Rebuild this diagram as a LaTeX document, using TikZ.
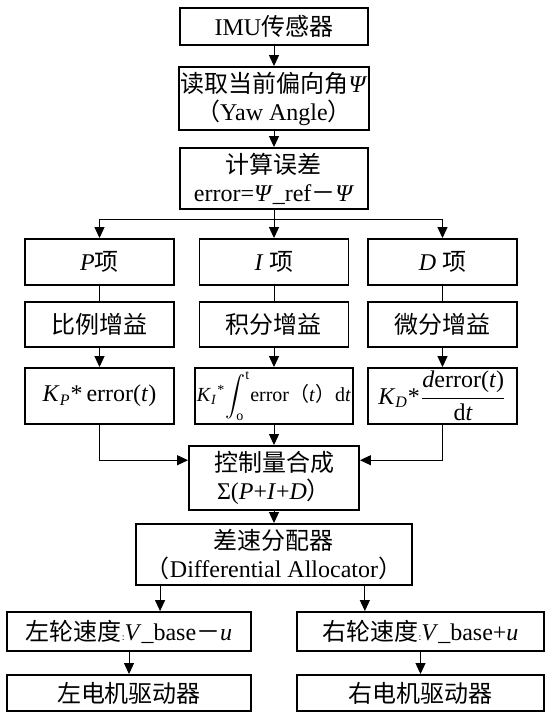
\documentclass[tikz,border=0pt]{standalone}
\usepackage{amsmath}
\usepackage{fontspec}
\setmainfont{Liberation Serif}
\newfontfamily\cjk{Noto Sans CJK SC}
\newcommand{\zh}[1]{{\cjk #1}}
\usepackage{tikz}
\usetikzlibrary{arrows.meta,positioning,calc}

\begin{document}
\begin{tikzpicture}[x=0.5pt,y=-0.5pt,
  box/.style={draw,line width=0.95pt,align=center,inner sep=1pt,font=\fontsize{12}{14}\selectfont},
  arr/.style={-{Triangle[length=5.5pt,width=5pt]},line width=0.5pt},
  ln/.style={line width=0.5pt}]
\useasboundingbox (0,0) rectangle (545,714);
\node[box,minimum width=94pt,minimum height=18.5pt] (imu) at (274,26.5) {IMU\zh{传感器}};
\node[box,minimum width=94pt,minimum height=31.5pt] (yaw) at (274,98.5) {\zh{读取当前偏向角}\textit{Ψ}\\\zh{（}Yaw Angle\zh{）}};
\node[box,minimum width=94pt,minimum height=30.5pt] (err) at (274,178.5) {\zh{计算误差}\\error=\textit{Ψ}\_ref\zh{－}\textit{Ψ}};
\foreach \n/\x/\t/\g in {p/99.5/{\textit{P}\zh{项}}/比例增益,i/274/{\textit{I} \zh{项}}/积分增益,d/442.5/{\textit{D} \zh{项}}/微分增益}{
  \node[box,minimum width=74.5pt,minimum height=23pt] (\n term) at (\x,262) {\t};
  \node[box,minimum width=74.5pt,minimum height=22.5pt] (\n gain) at (\x,324.5) {\zh{\g}};
}
\node[box,minimum width=74.5pt,minimum height=28pt] (pform) at (99.5,396) {\textit{K}\textsubscript{\textit{P}}*\,error(\textit{t})};
\node[box,minimum width=74.5pt,minimum height=28pt,font=\fontsize{10}{12}\selectfont] (iform) at (274,396) {\textit{K}\textsubscript{\textit{I}}\textsuperscript{*}$\displaystyle\int_{\mathrm{o}}^{\mathrm{t}}$error\zh{（}\textit{t}\zh{）}d\textit{t}};
\node[box,minimum width=74.5pt,minimum height=28pt] (dform) at (442.5,396) {\textit{K}\textsubscript{\textit{D}}*$\dfrac{\text{\textit{d}error(\textit{t})}}{\text{d\textit{t}}}$};
\node[box,minimum width=85pt,minimum height=32pt] (sum) at (274,478) {\zh{控制量合成}\\Σ(\textit{P}+\textit{I}+\textit{D}\zh{）}};
\node[box,minimum width=138pt,minimum height=30.5pt] (alloc) at (274,554.5) {\zh{差速分配器}\\\zh{（}Differential Allocator\zh{）}};
\node[box,minimum width=122pt,minimum height=19.5pt] (lwheel) at (129,631.5) {\zh{左轮速度}{\tiny:}\textit{V}\_base\zh{－}\textit{u}};
\node[box,minimum width=123.5pt,minimum height=19.5pt] (rwheel) at (420.5,631.5) {\zh{右轮速度}{\tiny:}\textit{V}\_base+\textit{u}};
\node[box,minimum width=122pt,minimum height=18pt] (lmotor) at (129,693) {\zh{左电机驱动器}};
\node[box,minimum width=123.5pt,minimum height=18pt] (rmotor) at (420.5,693) {\zh{右电机驱动器}};
\coordinate (br) at (274,219);
\draw[arr] (imu) -- (yaw);
\draw[arr] (yaw) -- (err);
\draw[arr] (err) -- (iterm);
\draw[arr] (br) -| (pterm);
\draw[arr] (br) -| (dterm);
\foreach \n in {p,i,d}{
  \draw[ln] (\n term) -- (\n gain);
  \draw[arr] (\n gain) -- (\n form);
}
\draw[arr] (iform) -- (sum);
\draw[arr] (pform.south) |- ($(sum.north west)!0.23!(sum.south west)$);
\draw[arr] (dform.south) |- ($(sum.north east)!0.23!(sum.south east)$);
\draw[arr] (sum) -- (alloc);
\coordinate (al) at ($(alloc.south west)!0.09!(alloc.south east)$);
\coordinate (ar) at ($(alloc.south west)!0.827!(alloc.south east)$);
\draw[arr] (al) -- (al |- lwheel.north);
\draw[arr] (ar) -- (ar |- rwheel.north);
\draw[arr] (lwheel) -- (lmotor);
\draw[arr] (rwheel) -- (rmotor);
\end{tikzpicture}
\end{document}
